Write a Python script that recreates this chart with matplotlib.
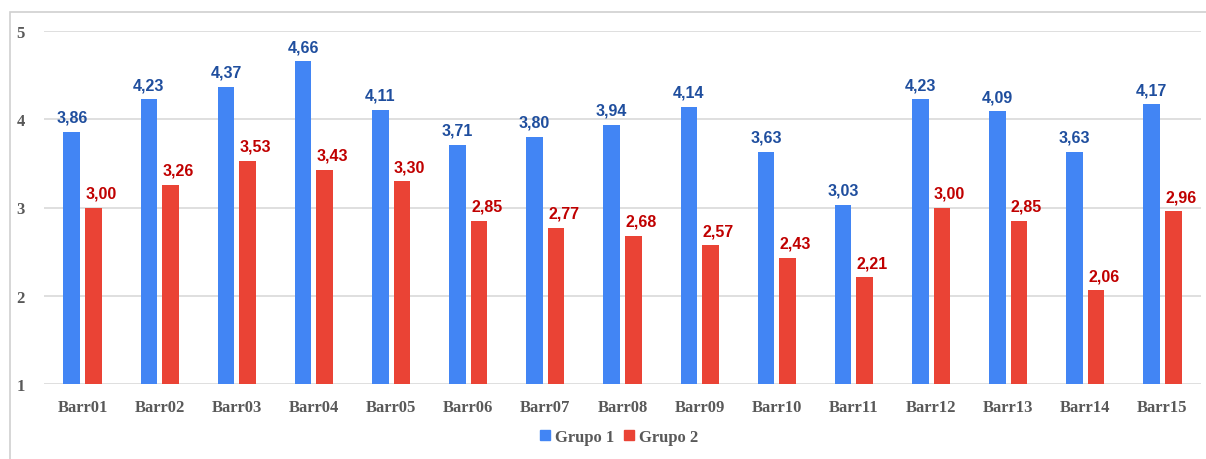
import matplotlib.pyplot as plt
import numpy as np
from matplotlib.patches import Rectangle
from matplotlib.lines import Line2D

categories = ["Barr01", "Barr02", "Barr03", "Barr04", "Barr05", "Barr06", "Barr07", "Barr08",
              "Barr09", "Barr10", "Barr11", "Barr12", "Barr13", "Barr14", "Barr15"]
grupo1 = [3.86, 4.23, 4.37, 4.66, 4.11, 3.71, 3.80, 3.94, 4.14, 3.63, 3.03, 4.23, 4.09, 3.63, 4.17]
grupo2 = [3.00, 3.26, 3.53, 3.43, 3.30, 2.85, 2.77, 2.68, 2.57, 2.43, 2.21, 3.00, 2.85, 2.06, 2.96]
series_names = ["Grupo 1", "Grupo 2"]
yticks = [1, 2, 3, 4, 5]

blue = "#4285F4"
red = "#EA4335"
blue_txt = "#1F4E9E"
red_txt = "#C00000"
grey_txt = "#595959"

fig = plt.figure(figsize=(12.06, 4.6), dpi=100)
ax = fig.add_axes([44/1206, 1-385/460, (1201-44)/1206, (385-32)/460])

x = np.arange(len(categories))
w = 0.215
gap = 0.065
off = (w + gap) / 2
b1 = ax.bar(x - off, [v - 1 for v in grupo1], w, bottom=1, color=blue, zorder=3)
b2 = ax.bar(x + off, [v - 1 for v in grupo2], w, bottom=1, color=red, zorder=3)

for xi, v in zip(x, grupo1):
    ax.annotate(f"{v:.2f}".replace(".", ","), (xi - off, v), xytext=(0, 5), textcoords="offset points",
                ha="center", va="bottom", color=blue_txt, fontsize=11.5, fontweight="bold",
                family="Liberation Sans")
for xi, v in zip(x, grupo2):
    ax.annotate(f"{v:.2f}".replace(".", ","), (xi + off, v), xytext=(5.5, 5), textcoords="offset points",
                ha="center", va="bottom", color=red_txt, fontsize=11.5, fontweight="bold",
                family="Liberation Sans")

ax.set_xlim(-0.5, len(categories) - 0.5)
ax.set_ylim(1, 5)
ax.set_yticks(yticks)
ax.set_yticklabels([str(t) for t in yticks])
ax.set_xticks(x)
ax.set_xticklabels(categories)
for lbl in ax.get_xticklabels() + ax.get_yticklabels():
    lbl.set_family("Liberation Serif")
    lbl.set_fontweight("bold")
    lbl.set_color(grey_txt)
    lbl.set_fontsize(12)
ax.tick_params(axis="both", length=0)
ax.tick_params(axis="x", pad=11)
ax.tick_params(axis="y", pad=14)
ax.grid(axis="y", color="#d9d9d9", linewidth=1.2, zorder=0)
for s in ax.spines.values():
    s.set_visible(False)

handles = [Line2D([], [], marker="s", linestyle="none", markersize=7, color=blue),
           Line2D([], [], marker="s", linestyle="none", markersize=7, color=red)]
leg = fig.legend(handles, series_names, loc="center", bbox_to_anchor=(619/1206, 1-438/460),
                 ncol=2, frameon=False, handlelength=0.6, handletextpad=0.3, columnspacing=0.6,
                 prop={"family": "Liberation Serif", "weight": "bold", "size": 12})
for t in leg.get_texts():
    t.set_color(grey_txt)

border = Rectangle((10/1206, -0.1), 1.2, 1 - 13/460 + 0.1, transform=fig.transFigure,
                   fill=False, edgecolor="#d0d0d0", linewidth=1.2)
fig.add_artist(border)

fig.savefig("out.png", dpi=100)
